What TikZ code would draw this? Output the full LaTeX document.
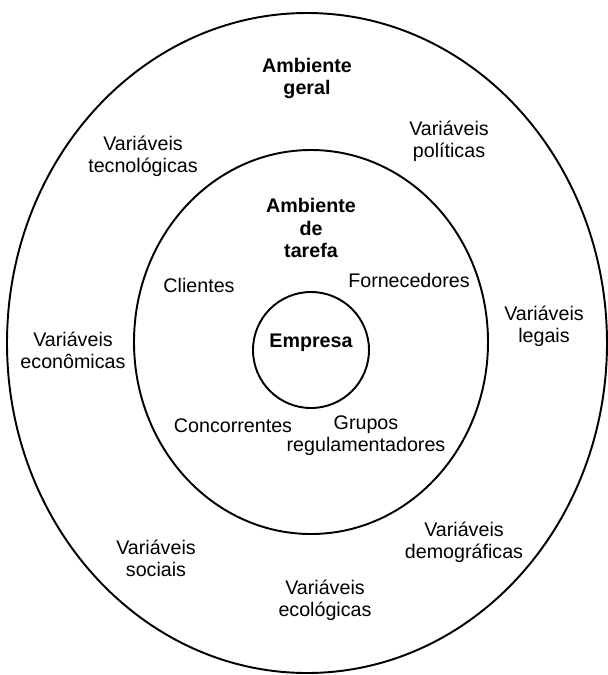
\documentclass[tikz,border=0pt]{standalone}
\usepackage{fontspec}
\setmainfont{Liberation Sans}

\begin{document}
\begin{tikzpicture}[line width=1.1pt,
    var/.style={align=center,inner sep=0pt,font=\fontsize{11.2}{12.6}\selectfont},
    head/.style={var,font=\fontsize{11.2}{12.6}\selectfont\bfseries}]
    \useasboundingbox (0,0) rectangle (12.14,-13.5);

    % the three rings
    \draw (6.14,-6.86) ellipse [x radius=6.00, y radius=6.60];
    \draw (6.22,-6.84) ellipse [x radius=3.54, y radius=3.84];
    \draw (6.22,-7.00) ellipse [x radius=1.16, y radius=1.16];

    \node[head] (geral) at (6.14,-1.57) {Ambiente\\geral};
    \node[var] (tecno) at (2.86,-3.13) {Variáveis\\tecnológicas};
    \node[var] (politicas) at (8.98,-2.82) {Variáveis\\políticas};
    \node[var] (econ) at (1.46,-7.00) {Variáveis\\econômicas};
    \node[var] (legais) at (10.88,-6.53) {Variáveis\\legais};
    \node[var] (sociais) at (3.12,-11.16) {Variáveis\\sociais};
    \node[var] (demog) at (9.28,-10.84) {Variáveis\\demográficas};
    \node[var] (ecolog) at (6.50,-12.00) {Variáveis\\ecológicas};

    \node[head] (tarefa) at (6.22,-4.56) {Ambiente\\de\\tarefa};
    \node[var] (clientes) at (3.98,-5.70) {Clientes};
    \node[var] (fornec) at (8.18,-5.60) {Fornecedores};
    \node[var] (concorr) at (4.66,-8.52) {Concorrentes};
    \node[var] (grupos) at (7.32,-8.72) {Grupos\\regulamentadores};

    \node[head] (empresa) at (6.22,-6.86) {Empresa};
\end{tikzpicture}
\end{document}
